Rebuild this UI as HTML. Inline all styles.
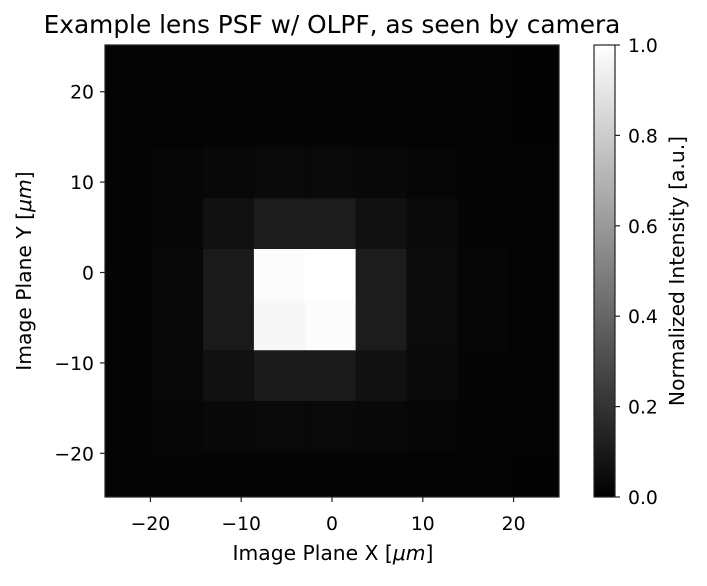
<!DOCTYPE html>
<html><head><meta charset="utf-8"><style>
body{margin:0;background:#fff;}
svg text{font-family:"DejaVu Sans","Liberation Sans",sans-serif;fill:#000;}
</style></head><body>
<svg id="chart" width="707" height="581" viewBox="0 0 707 581" xmlns="http://www.w3.org/2000/svg">
<defs>
<linearGradient id="gray" x1="0" y1="1" x2="0" y2="0">
<stop offset="0" stop-color="#000"/><stop offset="1" stop-color="#fff"/>
</linearGradient>
<clipPath id="plotclip"><rect x="105" y="45" width="454" height="452"/></clipPath>
</defs>
<text x="332" y="33" style="font-size:24.8px" text-anchor="middle">Example lens PSF w/ OLPF, as seen by camera</text>
<rect x="105" y="45" width="454" height="452" fill="#040404"/>
<g id="cells" clip-path="url(#plotclip)"></g>
<rect x="105" y="45" width="454" height="452" fill="none" stroke="#222" stroke-width="1.2"/>
<g id="axes"></g>
<text x="333" y="560" style="font-size:20.3px" text-anchor="middle">Image Plane X [<tspan font-style="italic">μm</tspan>]</text>
<text transform="translate(31,271) rotate(-90)" style="font-size:20.3px" text-anchor="middle">Image Plane Y [<tspan font-style="italic">μm</tspan>]</text>
<rect x="594" y="45" width="21" height="452" fill="url(#gray)" stroke="#222" stroke-width="1.2"/>
<g id="cbticks"></g>
<text transform="translate(684,271) rotate(-90)" style="font-size:20.3px" text-anchor="middle">Normalized Intensity [a.u.]</text>
</svg>
<script>
const xEdgeStart = -25.4;
const yEdgeTop = 25.0;
const cellSize = 5.6;
const intensity = [
 [0.016,0.016,0.016,0.018,0.018,0.016,0.016,0.014,0.012],
 [0.016,0.016,0.018,0.02,0.02,0.018,0.016,0.014,0.012],
 [0.016,0.025,0.03,0.036,0.036,0.03,0.025,0.016,0.015],
 [0.016,0.025,0.066,0.11,0.11,0.066,0.04,0.02,0.016],
 [0.02,0.03,0.1,0.99,1.0,0.11,0.045,0.025,0.015],
 [0.02,0.03,0.1,0.97,0.99,0.11,0.045,0.025,0.015],
 [0.02,0.03,0.065,0.105,0.105,0.065,0.04,0.02,0.016],
 [0.016,0.025,0.03,0.035,0.035,0.03,0.025,0.016,0.015],
 [0.016,0.018,0.018,0.02,0.02,0.018,0.016,0.014,0.012]
];
const xTicks = [-20,-10,0,10,20];
const yTicks = [-20,-10,0,10,20];
const cbTicks = [0.0,0.2,0.4,0.6,0.8,1.0];
const NS='http://www.w3.org/2000/svg';
const X = v => 332 + (v)*9.08;
const Y = v => 272.5 - (v)*9.04;
const C = v => 497 - v*452;
const cells = document.getElementById('cells');
intensity.forEach((row,r)=>{
  row.forEach((val,c)=>{
    const x0 = xEdgeStart + c*cellSize, x1 = x0+cellSize;
    const yTop = yEdgeTop - r*cellSize, yBot = yTop-cellSize;
    const g = Math.round(Math.max(0,Math.min(1,val))*255);
    const rc = document.createElementNS(NS,'rect');
    rc.setAttribute('x',X(x0)); rc.setAttribute('y',Y(yTop));
    rc.setAttribute('width',X(x1)-X(x0)+0.5); rc.setAttribute('height',Y(yBot)-Y(yTop)+0.5);
    rc.setAttribute('fill',`rgb(${g},${g},${g})`);
    
    
    cells.appendChild(rc);
  });
});
const axes = document.getElementById('axes');
function line(x1,y1,x2,y2,p){const l=document.createElementNS(NS,'line');l.setAttribute('x1',x1);l.setAttribute('y1',y1);l.setAttribute('x2',x2);l.setAttribute('y2',y2);l.setAttribute('stroke','#222');l.setAttribute('stroke-width','1.2');p.appendChild(l);return l;}
function text(x,y,s,anchor,p,name){const t=document.createElementNS(NS,'text');t.setAttribute('x',x);t.setAttribute('y',y);t.setAttribute('style','font-size:18.8px');t.setAttribute('text-anchor',anchor);t.textContent=s;


p.appendChild(t);return t;}
const fmt = v => v<0 ? '\u2212'+Math.abs(v) : String(v);
xTicks.forEach(v=>{line(X(v),497,X(v),502,axes);text(X(v),530,fmt(v),'middle',axes,'x-tick-label');});
yTicks.forEach(v=>{line(100,Y(v),105,Y(v),axes);text(94,Y(v)+7,fmt(v),'end',axes,'y-tick-label');});
const cb = document.getElementById('cbticks');
cbTicks.forEach(v=>{line(615,C(v),620,C(v),cb);text(628,C(v)+7,v.toFixed(1),'start',cb,'colorbar-tick-label');});
</script>
</body></html>
